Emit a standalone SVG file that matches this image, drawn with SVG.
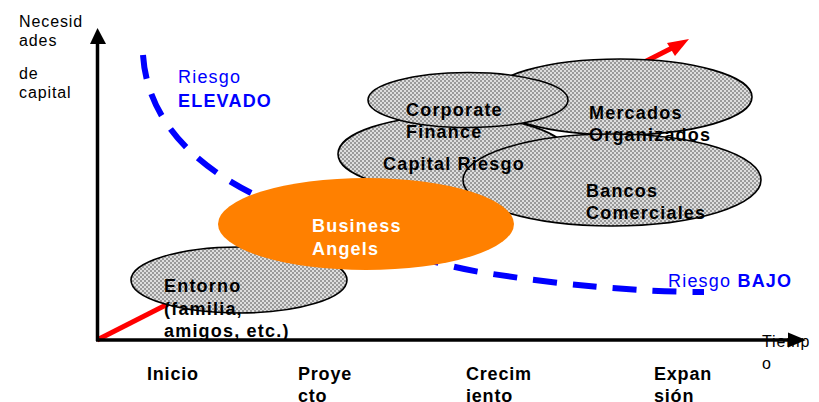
<svg xmlns="http://www.w3.org/2000/svg" width="819" height="402" viewBox="0 0 819 402">
  <defs>
    <pattern id="dots" width="4" height="4" patternUnits="userSpaceOnUse">
      <rect width="4" height="4" fill="#dedede"/>
      <rect x="0" y="0" width="2" height="2" fill="#9a9a9a"/>
      <rect x="2" y="2" width="2" height="2" fill="#9a9a9a"/>
    </pattern>
    <style>
      .grey { fill: url(#dots); stroke: #000; stroke-width: 1.6; }
      .lbl { font-family: "Liberation Sans", Arial, sans-serif; font-size: 18px; font-weight: bold; letter-spacing: 1.2px; fill: #000; }
      .ax { font-family: "Liberation Sans", Arial, sans-serif; font-size: 16px; letter-spacing: 0.9px; fill: #000; }
      .blue { font-family: "Liberation Sans", Arial, sans-serif; font-size: 18px; letter-spacing: 1.2px; fill: #0000ff; }
      .phase { font-family: "Liberation Sans", Arial, sans-serif; font-size: 18px; font-weight: bold; letter-spacing: 0.8px; fill: #000; }
    </style>
  </defs>
  <rect width="819" height="402" fill="#fff"/>

  <g id="connectors">
    <g id="growth-arrow">
      <line x1="97" y1="340" x2="672" y2="48" stroke="#ff0000" stroke-width="5"/>
      <polygon points="689,39 667,43 675,56" fill="#ff0000"/>
    </g>
    <g id="risk-curve">
      <path d="M143,55 C148,130 210,180 290,210 C350,235 420,262 480,272 C560,285 640,292 704,292" fill="none" stroke="#0000ff" stroke-width="6" stroke-dasharray="24 16"/>
    </g>
  </g>

  <g id="mercados"><ellipse class="grey" cx="620" cy="97" rx="132" ry="38"/></g>
  <g id="capital-riesgo"><ellipse class="grey" cx="453" cy="154" rx="115" ry="38"/></g>
  <g id="corporate"><ellipse class="grey" cx="468" cy="100" rx="100" ry="27.5"/></g>
  <g id="bancos"><ellipse class="grey" cx="612" cy="180" rx="149" ry="46"/></g>
  <g id="entorno"><ellipse class="grey" cx="239" cy="280" rx="108" ry="33"/></g>
  <g id="business-angels"><ellipse cx="366" cy="224" rx="148" ry="46" fill="#ff8000"/></g>

  <g id="labels">
    <text class="lbl" x="406" y="116">Corporate</text>
    <text class="lbl" x="406" y="138">Finance</text>
    <text class="lbl" x="589" y="119">Mercados</text>
    <text class="lbl" x="589" y="141">Organizados</text>
    <text class="lbl" x="383" y="170">Capital Riesgo</text>
    <text class="lbl" x="586" y="197">Bancos</text>
    <text class="lbl" x="586" y="219">Comerciales</text>
    <text class="lbl" x="312" y="232" style="fill:#fff">Business</text>
    <text class="lbl" x="312" y="255" style="fill:#fff">Angels</text>
    <text class="lbl" x="164" y="292">Entorno</text>
    <text class="lbl" x="164" y="315">(familia,</text>
    <text class="lbl" x="164" y="337">amigos, etc.)</text>

    <text class="blue" x="178" y="83">Riesgo</text>
    <text class="blue" x="178" y="107" font-weight="bold">ELEVADO</text>
    <text class="blue" x="668" y="287">Riesgo <tspan font-weight="bold">BAJO</tspan></text>

    <text class="ax" x="19" y="27">Necesid</text>
    <text class="ax" x="19" y="46">ades</text>
    <text class="ax" x="19" y="79">de</text>
    <text class="ax" x="19" y="98">capital</text>
    <text class="ax" x="762" y="347">Tiemp</text>
    <text class="ax" x="762" y="369">o</text>

    <text class="phase" x="147" y="380">Inicio</text>
    <text class="phase" x="298" y="380">Proye</text>
    <text class="phase" x="298" y="402">cto</text>
    <text class="phase" x="466" y="380">Crecim</text>
    <text class="phase" x="466" y="402">iento</text>
    <text class="phase" x="654" y="380">Expan</text>
    <text class="phase" x="654" y="402">sión</text>
  </g>

  <g id="axes">
    <line x1="97.5" y1="42" x2="97.5" y2="341" stroke="#000" stroke-width="3.5"/>
    <polygon points="97.5,28 90,44 106,44" fill="#000"/>
    <line x1="96" y1="340" x2="790" y2="340" stroke="#000" stroke-width="3.5"/>
    <polygon points="806,340 788,332.5 788,347.5" fill="#000"/>
  </g>
</svg>
